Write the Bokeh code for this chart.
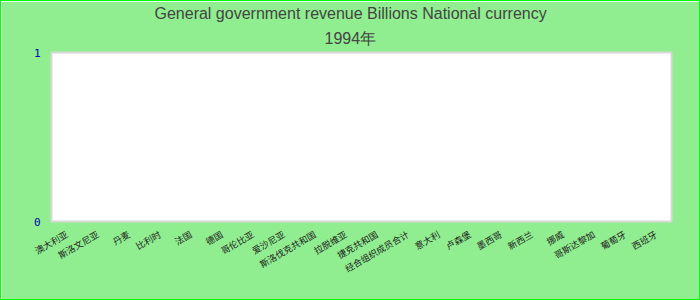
import math
from bokeh.plotting import figure
from bokeh.models import FixedTicker, Title, FactorRange, Range1d
from bokeh.embed import file_html
from bokeh.resources import INLINE

title_line1 = "General government revenue Billions National currency"
title_line2 = "1994年"

categories = [
    "澳大利亚", "斯洛文尼亚", "丹麦", "比利时", "法国",
    "德国", "哥伦比亚", "爱沙尼亚", "斯洛伐克共和国", "拉脱维亚",
    "捷克共和国", "经合组织成员合计", "意大利", "卢森堡", "墨西哥",
    "新西兰", "挪威", "哥斯达黎加", "葡萄牙", "西班牙",
]
# no values reported for 1994
values = [float("nan"), float("nan"), float("nan"), float("nan"), float("nan"),
          float("nan"), float("nan"), float("nan"), float("nan"), float("nan"),
          float("nan"), float("nan"), float("nan"), float("nan"), float("nan"),
          float("nan"), float("nan"), float("nan"), float("nan"), float("nan")]

y_ticks = [0, 1]

p = figure(
    width=700, height=300,
    x_range=FactorRange(*categories, range_padding=0),
    y_range=Range1d(0, 1),
    output_backend="svg", toolbar_location=None,
    min_border_left=50, min_border_right=30,
    min_border_top=51, min_border_bottom=80,
)
p.title = None
p.background_fill_color = "white"
p.border_fill_color = "#90EE90"
p.outline_line_color = "#d8d8d8"
p.outline_line_width = 2

p.vbar(x=categories, top=values, width=0.6, color="#4572A7")

p.add_layout(Title(text=title_line2, align="left", offset=273, text_font_size="16px",
                   text_font="Liberation Sans", text_font_style="normal",
                   vertical_align="top",
                   text_color="#444444", standoff=7), "above")
p.add_layout(Title(text=title_line1, align="left", offset=103, text_font_size="16px",
                   text_font="Liberation Sans", text_font_style="normal",
                   vertical_align="top",
                   text_color="#444444", standoff=5), "above")

p.xgrid.visible = False
p.ygrid.visible = False

p.yaxis.ticker = FixedTicker(ticks=y_ticks)
p.yaxis.axis_line_color = None
p.yaxis.major_tick_line_color = None
p.yaxis.minor_tick_line_color = None
p.yaxis.major_label_text_color = "#0000b0"
p.yaxis.major_label_text_font = "DejaVu Sans Mono"
p.yaxis.major_label_text_font_size = "11px"
p.yaxis.major_label_standoff = 5

p.xaxis.axis_line_color = None
p.xaxis.major_tick_line_color = None
p.xaxis.major_label_orientation = math.pi / 6
p.xaxis.major_label_text_font = "Noto Sans CJK SC"
p.xaxis.major_label_text_font_size = "9px"
p.xaxis.major_label_text_color = "#222222"
p.xaxis.major_label_standoff = 6

p.styles = {"border": "1px solid #00ff00", "box-sizing": "border-box"}

open("out.html", "w").write(file_html(p, INLINE))
